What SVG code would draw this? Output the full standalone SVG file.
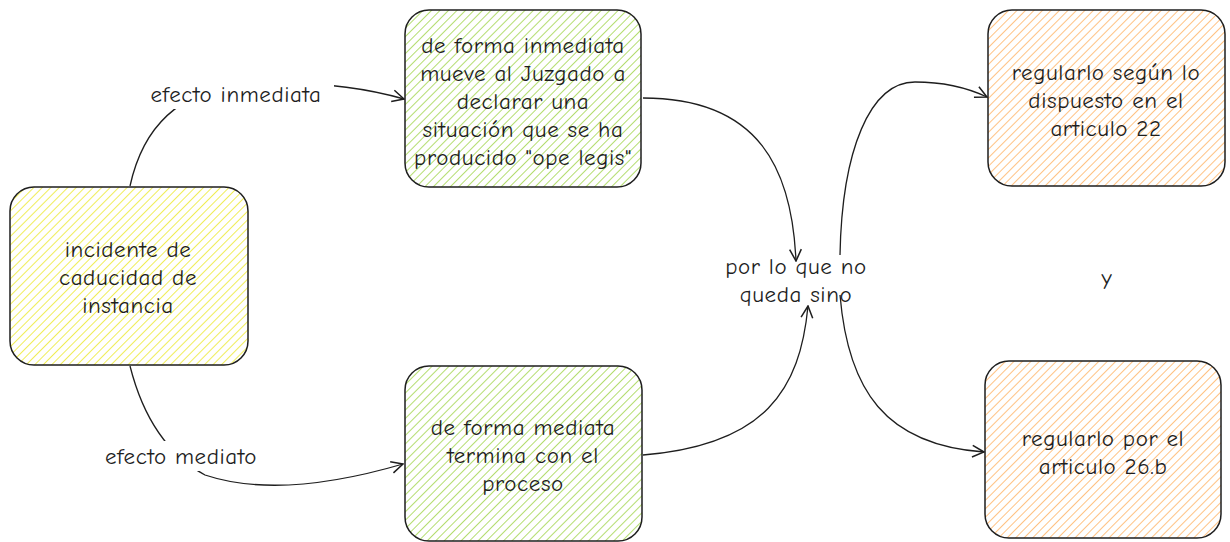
<svg xmlns="http://www.w3.org/2000/svg" width="1230" height="542" viewBox="0 0 1230 542">
<defs>
<pattern id="hY" width="6" height="6" patternUnits="userSpaceOnUse" patternTransform="rotate(45)"><line x1="0" y1="0" x2="0" y2="6" stroke="#f0ec50" stroke-width="1.9"/></pattern>
<pattern id="hG" width="6" height="6" patternUnits="userSpaceOnUse" patternTransform="rotate(45)"><line x1="0" y1="0" x2="0" y2="6" stroke="#b0dc68" stroke-width="1.9"/></pattern>
<pattern id="hO" width="6" height="6" patternUnits="userSpaceOnUse" patternTransform="rotate(45)"><line x1="0" y1="0" x2="0" y2="6" stroke="#ffbf7c" stroke-width="1.9"/></pattern>
<marker id="arr" viewBox="0 0 12 12" refX="11" refY="6" markerWidth="14" markerHeight="14" markerUnits="userSpaceOnUse" orient="auto"><path d="M1,1 L11,6 L1,11" fill="none" stroke="#1e1e1e" stroke-width="1.3"/></marker>
</defs>
<style>
.box{stroke:#1e1e1e;stroke-width:1.5}
.t{font-family:"Comic Neue","Open Sans","Liberation Sans",sans-serif;font-size:23px;letter-spacing:0.6px;fill:#1e1e1e;text-anchor:middle}
.c{fill:none;stroke:#1e1e1e;stroke-width:1.3}
</style>
<rect width="1230" height="542" fill="#ffffff"/>
<g id="connectors">
<path class="c" d="M130,186 Q150,95 240,85 Q330,78 404,99" marker-end="url(#arr)"/>
<path class="c" d="M130,366 Q150,445 205,475 Q280,500 403,464" marker-end="url(#arr)"/>
<path class="c" d="M643,98 C760,98 792,170 796,261" marker-end="url(#arr)"/>
<path class="c" d="M643,455 C765,445 800,390 808,306" marker-end="url(#arr)"/>
<path class="c" d="M840,255 C842,150 870,82 915,82 Q955,82 987,97" marker-end="url(#arr)"/>
<path class="c" d="M840,295 C848,390 885,445 984,452" marker-end="url(#arr)"/>
<rect x="138" y="79" width="196" height="30" fill="#ffffff"/>
<text class="t" x="236" y="102">efecto inmediata</text>
<rect x="92" y="441" width="180" height="30" fill="#ffffff"/>
<text class="t" x="181" y="464">efecto mediato</text>
</g>
<g id="n1">
<rect class="box" x="10" y="187" width="238" height="178" rx="24" fill="url(#hY)"/>
<text class="t" x="128" y="257">incidente de</text>
<text class="t" x="128" y="285">caducidad de</text>
<text class="t" x="128" y="313">instancia</text>
</g>
<g id="n2">
<rect class="box" x="405" y="10" width="236" height="177" rx="24" fill="url(#hG)"/>
<text class="t" x="523" y="53">de forma inmediata</text>
<text class="t" x="523" y="81">mueve al Juzgado a</text>
<text class="t" x="523" y="109">declarar una</text>
<text class="t" x="523" y="137">situación que se ha</text>
<text class="t" x="523" y="165">producido "ope legis"</text>
</g>
<g id="n3">
<rect class="box" x="405" y="366" width="237" height="175" rx="24" fill="url(#hG)"/>
<text class="t" x="523" y="435">de forma mediata</text>
<text class="t" x="523" y="463">termina con el</text>
<text class="t" x="523" y="491">proceso</text>
</g>
<g id="n4">
<text class="t" x="796" y="274">por lo que no</text>
<text class="t" x="796" y="302">queda sino</text>
</g>
<g id="n5">
<rect class="box" x="988" y="10" width="237" height="176" rx="24" fill="url(#hO)"/>
<text class="t" x="1106" y="80">regularlo según lo</text>
<text class="t" x="1106" y="108">dispuesto en el</text>
<text class="t" x="1106" y="136">articulo 22</text>
</g>
<g id="n6">
<rect class="box" x="985" y="361" width="236" height="177" rx="24" fill="url(#hO)"/>
<text class="t" x="1103" y="446">regularlo por el</text>
<text class="t" x="1103" y="474">articulo 26.b</text>
</g>
<g id="n7">
<text class="t" x="1107" y="285">y</text>
</g>
</svg>
